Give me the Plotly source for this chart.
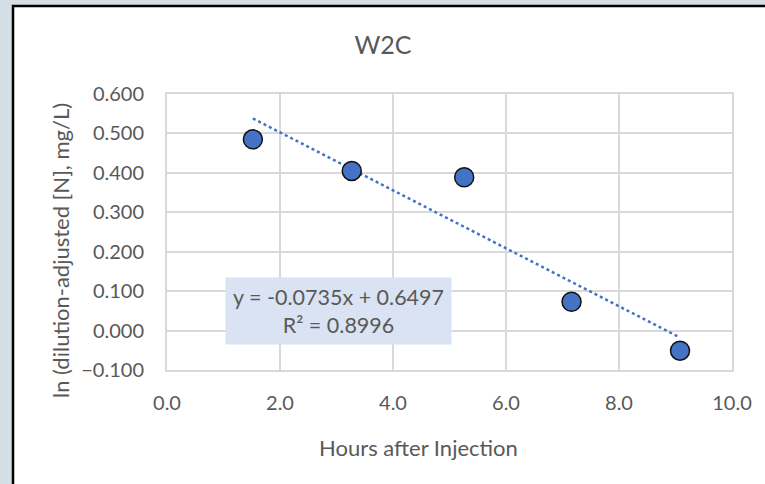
import numpy as np
import plotly.graph_objects as go

# Data
hours = [1.52, 3.27, 5.26, 7.16, 9.08]
ln_conc = [0.485, 0.405, 0.389, 0.073, -0.051]
slope = -0.0735
intercept = 0.6497
r2 = 0.8996
x_ticks = [0, 2, 4, 6, 8, 10]
y_ticks = [-0.1, 0.0, 0.1, 0.2, 0.3, 0.4, 0.5, 0.6]
x_title = "Hours after Injection"
y_title = "ln (dilution-adjusted [N], mg/L)"

W, H = 765, 484
L, R, T, B = 167, 33, 94, 114
pw, ph = W - L - R, H - T - B

FONT = "Lato"
GRAY = "#595959"
GRID = "#d9d9d9"
PAGE_BG = "#d3dfe4"

trend_x = [min(hours), max(hours)]
trend_y = [slope * v + intercept for v in trend_x]

fig = go.Figure()
fig.add_trace(go.Scatter(x=trend_x, y=trend_y, mode="lines",
                         line=dict(color="#4472C4", width=2.5, dash="dot"),
                         hoverinfo="skip", showlegend=False))
fig.add_trace(go.Scatter(x=hours, y=ln_conc, mode="markers",
                         marker=dict(size=19, color="#4472C4",
                                     line=dict(color="#111111", width=1.5)),
                         showlegend=False))

def px2paper_x(px):
    return (px - L) / pw

def px2paper_y(py):
    return (H - B - py) / ph

# chart frame (white with black border) over bluish background
fig.add_shape(type="rect", xref="paper", yref="paper",
              x0=px2paper_x(13), x1=px2paper_x(W + 10),
              y0=px2paper_y(H + 10), y1=px2paper_y(6),
              fillcolor="white", line=dict(color="black", width=2.5),
              layer="below")

fig.add_annotation(x=3.03, y=0.049, xref="x", yref="y",
                   text=f"y = {slope}x + {intercept}<br>R² = {r2}",
                   showarrow=False, bgcolor="#dae3f3",
                   width=217, height=58, borderpad=4,
                   font=dict(family=FONT, size=21.5, color=GRAY),
                   align="center")

# axis titles (centred on the chart area, as in the original)
fig.add_annotation(x=px2paper_x(418), y=px2paper_y(447), xref="paper", yref="paper",
                   text=x_title, showarrow=False, xanchor="center", yanchor="middle",
                   font=dict(family=FONT, size=22, color=GRAY))
fig.add_annotation(x=px2paper_x(60), y=px2paper_y(251), xref="paper", yref="paper",
                   text=y_title, showarrow=False, textangle=-90,
                   xanchor="center", yanchor="middle",
                   font=dict(family=FONT, size=22, color=GRAY))

fig.update_layout(
    width=W, height=H,
    margin=dict(l=L, r=R, t=T, b=B),
    paper_bgcolor=PAGE_BG,
    plot_bgcolor="rgba(0,0,0,0)",
    title=dict(text="W2C", x=(383 / W), xanchor="center", y=1 - 45 / H, yanchor="middle",
               font=dict(family=FONT, size=25, color=GRAY)),
    xaxis=dict(range=[0, 10], tickvals=x_ticks, tickformat=".1f",
               showgrid=True, gridcolor=GRID, gridwidth=2, zeroline=False,
               showline=True, linecolor=GRID, linewidth=2, mirror=True,
               ticks="", ticklabelstandoff=14,
               tickfont=dict(family=FONT, size=20, color=GRAY)),
    yaxis=dict(range=[-0.1, 0.6], tickvals=y_ticks, tickformat=".3f",
               showgrid=True, gridcolor=GRID, gridwidth=2, zeroline=False,
               showline=True, linecolor=GRID, linewidth=2, mirror=True,
               ticks="", ticklabelstandoff=17,
               tickfont=dict(family=FONT, size=20, color=GRAY)),
)

post = ("document.body.style.margin='0';"
        "document.body.style.padding='0';"
        "document.body.style.overflow='hidden';"
        f"document.body.style.background='{PAGE_BG}';")

fig.write_html("out.html", post_script=post,
               config={"displayModeBar": False})
